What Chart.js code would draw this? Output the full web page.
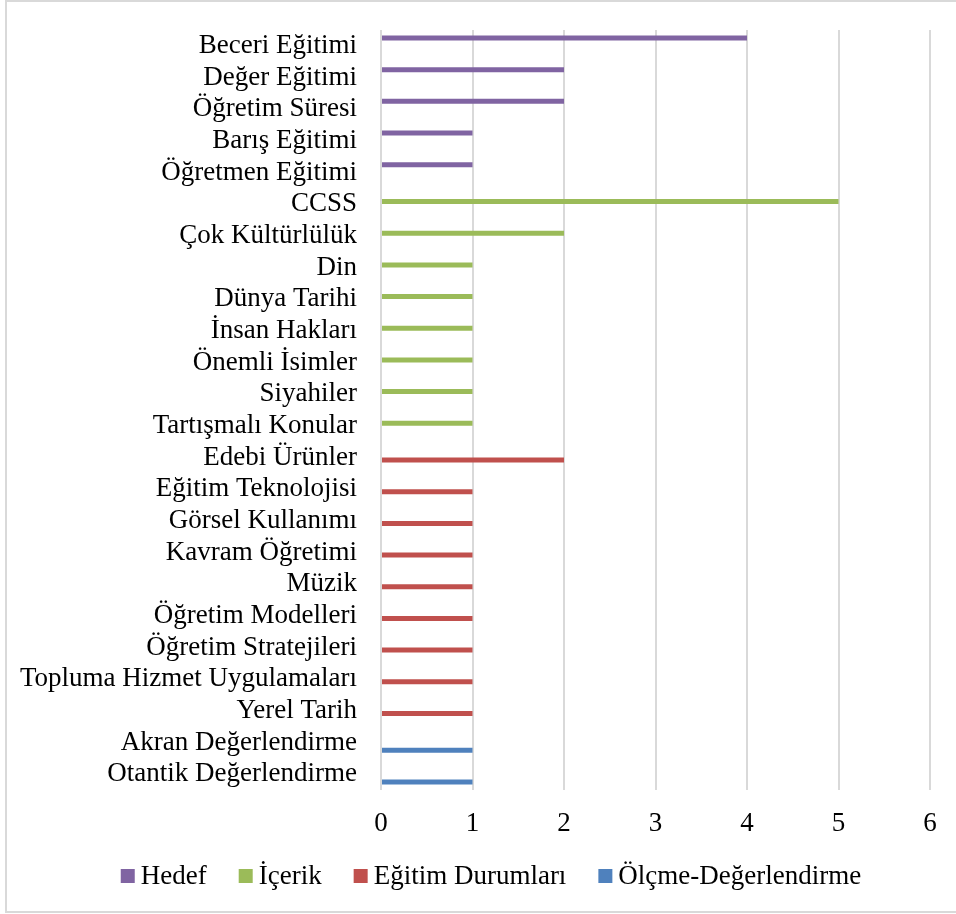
<!DOCTYPE html>
<html lang="tr">
<head>
<meta charset="utf-8">
<title>Konu dağılımı</title>
<script src="https://cdn.jsdelivr.net/npm/chart.js@4/dist/chart.umd.min.js"></script>
<style>
  html, body { margin: 0; padding: 0; background: #fff; }
  #wrap { position: relative; width: 956px; height: 914px; }
</style>
</head>
<body>
<div id="wrap"><canvas id="grafik" width="956" height="914"></canvas></div>
<script>
// kategoriler (üstten alta) ve her gruptaki değerler
const hedefLabels = ["Beceri Eğitimi", "Değer Eğitimi", "Öğretim Süresi", "Barış Eğitimi", "Öğretmen Eğitimi"];
const hedefValues = [4, 2, 2, 1, 1];

const icerikLabels = ["CCSS", "Çok Kültürlülük", "Din", "Dünya Tarihi", "İnsan Hakları", "Önemli İsimler", "Siyahiler", "Tartışmalı Konular"];
const icerikValues = [5, 2, 1, 1, 1, 1, 1, 1];

const durumLabels = ["Edebi Ürünler", "Eğitim Teknolojisi", "Görsel Kullanımı", "Kavram Öğretimi", "Müzik", "Öğretim Modelleri", "Öğretim Stratejileri", "Topluma Hizmet Uygulamaları", "Yerel Tarih"];
const durumValues = [2, 1, 1, 1, 1, 1, 1, 1, 1];

const olcmeLabels = ["Akran Değerlendirme", "Otantik Değerlendirme"];
const olcmeValues = [1, 1];

const xTicks = [0, 1, 2, 3, 4, 5, 6];

const gruplar = [
  { ad: "Hedef", labels: hedefLabels, values: hedefValues, renk: "#8064A2" },
  { ad: "İçerik", labels: icerikLabels, values: icerikValues, renk: "#9BBB59" },
  { ad: "Eğitim Durumları", labels: durumLabels, values: durumValues, renk: "#C0504D" },
  { ad: "Ölçme-Değerlendirme", labels: olcmeLabels, values: olcmeValues, renk: "#4F81BD" }
];

const kategoriler = gruplar.flatMap(g => g.labels);

// her seri yalnız kendi kategorilerinde değer taşır, diğerleri null
const datasets = gruplar.map(g => ({
  label: g.ad,
  data: kategoriler.map(k => {
    const i = g.labels.indexOf(k);
    return i >= 0 ? g.values[i] : null;
  }),
  backgroundColor: g.renk,
  borderWidth: 0,
  categoryPercentage: 0.66,
  barPercentage: 0.96
}));

const FONT = "'Liberation Serif', 'Times New Roman', serif";
const FONT_SIZE = 27;

// grafik alanının çevresindeki gri çerçeve
const cerceve = {
  id: "cerceve",
  beforeDraw(chart) {
    const ctx = chart.ctx;
    ctx.save();
    ctx.fillStyle = "#fff";
    ctx.fillRect(0, 0, chart.width, chart.height);
    ctx.strokeStyle = "#d9d9d9";
    ctx.lineWidth = 2;
    ctx.strokeRect(6, 1, chart.width + 10, 911);
    ctx.restore();
  }
};

// alttaki lejant: kare + metin, sıkı aralıklarla, ortalanmış
const lejant = {
  id: "lejant",
  afterDraw(chart) {
    const ctx = chart.ctx;
    const kutu = 14, bosluk = 6, aralik = 32, merkezX = 491, y = 876;
    ctx.save();
    ctx.font = `${FONT_SIZE}px ${FONT}`;
    ctx.textBaseline = "middle";
    const ogeler = chart.data.datasets.map(ds => ({
      ad: ds.label,
      renk: ds.backgroundColor,
      w: kutu + bosluk + ctx.measureText(ds.label).width
    }));
    const toplam = ogeler.reduce((t, o) => t + o.w, 0) + aralik * (ogeler.length - 1);
    let x = merkezX - toplam / 2;
    for (const o of ogeler) {
      ctx.fillStyle = o.renk;
      ctx.fillRect(x, y - kutu / 2, kutu, kutu);
      ctx.fillStyle = "#000";
      ctx.fillText(o.ad, x + kutu + bosluk, y + 1);
      x += o.w + aralik;
    }
    ctx.restore();
  }
};

new Chart(document.getElementById("grafik"), {
  type: "bar",
  data: { labels: kategoriler, datasets },
  plugins: [cerceve, lejant],
  options: {
    indexAxis: "y",
    responsive: false,
    animation: false,
    layout: { padding: { top: 30, right: 26, left: 0, bottom: 76 } },
    scales: {
      x: {
        min: 0,
        max: 6,
        afterBuildTicks: s => { s.ticks = xTicks.map(v => ({ value: v })); },
        afterFit: s => { s.height = 48; },
        grid: { color: "#d9d9d9", lineWidth: 2, drawTicks: false },
        border: { display: false },
        ticks: { color: "#000", padding: 18, font: { family: FONT, size: FONT_SIZE } }
      },
      y: {
        afterFit: s => { s.width = 381; s.paddingTop = 0; s.paddingBottom = 0; },
        grid: { display: false, drawTicks: false },
        border: { display: false },
        ticks: { color: "#000", padding: 24, autoSkip: false, font: { family: FONT, size: FONT_SIZE } }
      }
    },
    plugins: {
      tooltip: { enabled: false },
      legend: { display: false }
    }
  }
});
</script>
</body>
</html>
